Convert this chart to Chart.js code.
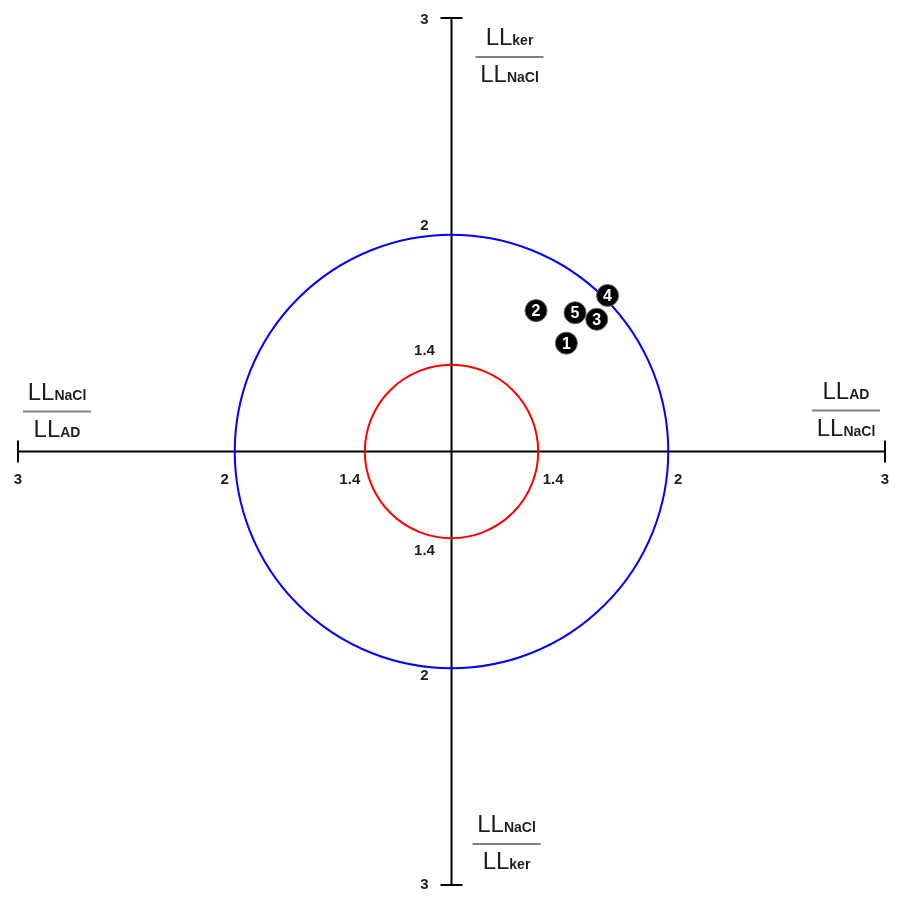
<!DOCTYPE html>
<html>
<head>
<meta charset="utf-8">
<script src="https://cdn.jsdelivr.net/npm/chart.js@4.4.0/dist/chart.umd.min.js"></script>
<style>
  html, body { margin: 0; padding: 0; background: #fff; overflow: hidden; }
  canvas { display: block; }
</style>
</head>
<body>
<canvas id="chartRatios" width="897" height="897"></canvas>
<script>
// Muestras numeradas
const sampleLabels = ['1', '2', '3', '4', '5'];
// LL_AD / LL_NaCl (eje horizontal, lado derecho)
const ratioAdNacl = [1.53, 1.39, 1.67, 1.72, 1.57];
// LL_ker / LL_NaCl (eje vertical, lado superior)
const ratioKerNacl = [1.50, 1.65, 1.61, 1.72, 1.64];

// Círculos de referencia
const circleLevels = [2, 1.4];
const circleColors = ['#0000ff', '#ff0000'];

// Etiquetas de los ejes (mismo valor en las cuatro direcciones)
const tickValues = [1.4, 2, 3];
const axisMax = 3;

// Fracciones de los cuatro extremos [num, sub, den, sub]
const fracTop = ['LL', 'ker', 'LL', 'NaCl'];
const fracBottom = ['LL', 'NaCl', 'LL', 'ker'];
const fracLeft = ['LL', 'NaCl', 'LL', 'AD'];
const fracRight = ['LL', 'AD', 'LL', 'NaCl'];

const FONT = '"Liberation Sans", Arial, sans-serif';
const TEXT_COLOR = '#1e1e1e';

// distancia desde el centro (valor 1 = centro)
function off(v) { return v - 1; }

function drawFraction(ctx, cx, lineY, parts) {
  const big = '24px ' + FONT;
  const small = 'bold 14px ' + FONT;
  function drawPart(main, sub, baseY) {
    ctx.font = big;
    const w1 = ctx.measureText(main).width;
    ctx.font = small;
    const w2 = ctx.measureText(sub).width;
    const x0 = cx - (w1 + w2) / 2;
    ctx.fillStyle = TEXT_COLOR;
    ctx.textAlign = 'left';
    ctx.textBaseline = 'alphabetic';
    ctx.font = big;
    ctx.fillText(main, x0, baseY);
    ctx.font = small;
    ctx.fillText(sub, x0 + w1, baseY);
  }
  drawPart(parts[0], parts[1], lineY - 12);
  drawPart(parts[2], parts[3], lineY + 25);
  ctx.strokeStyle = '#808080';
  ctx.lineWidth = 2;
  ctx.beginPath();
  ctx.moveTo(cx - 34, lineY);
  ctx.lineTo(cx + 34, lineY);
  ctx.stroke();
}

// Ejes en cruz, círculos, etiquetas y fracciones
const crossAxesPlugin = {
  id: 'crossAxes',
  beforeDatasetsDraw(chart) {
    const ctx = chart.ctx;
    const xs = chart.scales.x;
    const ys = chart.scales.y;
    const m = off(axisMax);
    const cx = xs.getPixelForValue(0);
    const cy = ys.getPixelForValue(0);
    const left = xs.getPixelForValue(-m);
    const right = xs.getPixelForValue(m);
    const top = ys.getPixelForValue(m);
    const bottom = ys.getPixelForValue(-m);

    ctx.save();
    ctx.strokeStyle = '#000';
    ctx.lineWidth = 2;
    ctx.beginPath();
    ctx.moveTo(left, cy); ctx.lineTo(right, cy);
    ctx.moveTo(cx, top); ctx.lineTo(cx, bottom);
    // remates en los extremos
    ctx.moveTo(left, cy - 11); ctx.lineTo(left, cy + 11);
    ctx.moveTo(right, cy - 11); ctx.lineTo(right, cy + 11);
    ctx.moveTo(cx - 11, top); ctx.lineTo(cx + 11, top);
    ctx.moveTo(cx - 11, bottom); ctx.lineTo(cx + 11, bottom);
    ctx.stroke();

    // círculos de referencia
    circleLevels.forEach((lvl, i) => {
      const r = xs.getPixelForValue(off(lvl)) - cx;
      ctx.strokeStyle = circleColors[i];
      ctx.lineWidth = 2;
      ctx.beginPath();
      ctx.arc(cx, cy, r, 0, Math.PI * 2);
      ctx.stroke();
    });

    // etiquetas de los ejes
    ctx.fillStyle = TEXT_COLOR;
    ctx.font = 'bold 15px ' + FONT;
    ctx.textAlign = 'center';
    ctx.textBaseline = 'middle';
    tickValues.forEach(v => {
      const txt = String(v);
      const shift = v >= axisMax ? 0 : (v >= 2 ? 10 : 15);
      const px = xs.getPixelForValue(off(v));
      const nx = xs.getPixelForValue(-off(v));
      const py = ys.getPixelForValue(off(v));
      const ny = ys.getPixelForValue(-off(v));
      ctx.fillText(txt, px + shift, cy + 28);
      ctx.fillText(txt, nx - shift, cy + 28);
      ctx.fillText(txt, cx - 27, v >= axisMax ? py + 2 : py - shift + 1);
      ctx.fillText(txt, cx - 27, v >= axisMax ? ny : ny + shift - 2);
    });

    // fracciones
    const fracPos = 1.82;
    drawFraction(ctx, cx + 58, ys.getPixelForValue(fracPos), fracTop);
    drawFraction(ctx, cx + 55, ys.getPixelForValue(-fracPos) - 2, fracBottom);
    drawFraction(ctx, xs.getPixelForValue(-fracPos), cy - 40, fracLeft);
    drawFraction(ctx, xs.getPixelForValue(fracPos), cy - 41, fracRight);
    ctx.restore();
  },
  afterDatasetsDraw(chart) {
    const ctx = chart.ctx;
    const meta = chart.getDatasetMeta(0);
    ctx.save();
    ctx.fillStyle = '#fff';
    ctx.font = 'bold 16px ' + FONT;
    ctx.textAlign = 'center';
    ctx.textBaseline = 'middle';
    meta.data.forEach((pt, i) => {
      ctx.fillText(sampleLabels[i], pt.x, pt.y + 1);
    });
    ctx.restore();
  }
};

const points = ratioAdNacl.map((v, i) => ({ x: off(v), y: off(ratioKerNacl[i]) }));

new Chart(document.getElementById('chartRatios'), {
  type: 'scatter',
  data: {
    datasets: [{
      data: points,
      backgroundColor: '#000',
      borderColor: '#666',
      borderWidth: 1,
      pointRadius: 11,
      pointHoverRadius: 11
    }]
  },
  options: {
    responsive: false,
    animation: false,
    layout: { padding: { left: 18, right: 9, top: 18, bottom: 9 } },
    scales: {
      x: { type: 'linear', min: -off(axisMax), max: off(axisMax), display: false },
      y: { type: 'linear', min: -off(axisMax), max: off(axisMax), display: false }
    },
    plugins: {
      legend: { display: false },
      tooltip: { enabled: false }
    }
  },
  plugins: [crossAxesPlugin]
});
</script>
</body>
</html>
